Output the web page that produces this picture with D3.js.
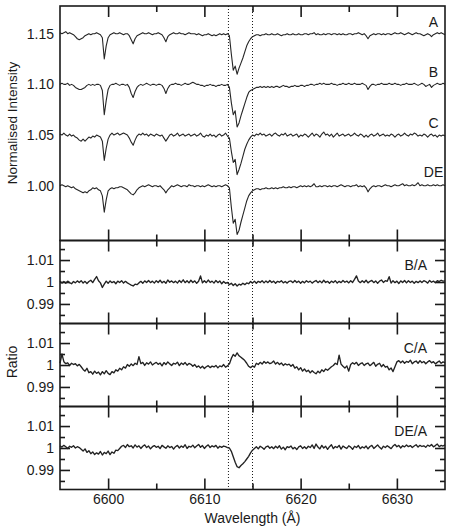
<!DOCTYPE html>
<html>
<head>
<meta charset="utf-8">
<script src="https://cdn.jsdelivr.net/npm/d3@7"></script>
<style>
  body { margin: 0; background: #fff; }
  svg text { font-family: "Liberation Sans", Arial, sans-serif; fill: #1a1a1a; }
</style>
</head>
<body>
<svg id="chart" width="450" height="531"></svg>
<script>
// wavelength grid of the spectra (Angstrom)
const wlStart = 6595, wlStep = 0.2;

const spectrumNames = ['A', 'B', 'C', 'DE'];
const spectrumOffsets = [0.15, 0.10, 0.05, 0];

const specA = [
  1.001,1.000,1.001,1.002,1.000,1.001,1.000,0.999,0.997,0.995,
  0.994,0.995,0.996,0.998,0.999,1.000,0.999,1.000,1.000,1.001,
  1.000,0.999,0.996,0.975,0.988,0.996,0.999,1.000,1.001,1.000,
  1.000,1.001,1.000,0.999,1.000,1.000,0.998,0.994,0.990,0.995,
  0.998,0.999,1.000,1.001,1.000,1.000,1.001,1.000,0.999,1.000,
  1.000,1.001,1.000,0.999,0.996,0.992,0.997,0.999,1.000,1.001,
  1.000,1.000,1.001,1.000,1.000,0.999,1.000,1.001,1.000,1.000,
  1.000,0.999,1.000,0.999,0.998,0.999,0.999,1.000,0.999,0.998,
  0.999,0.998,0.999,1.000,0.999,1.000,0.999,1.000,0.998,0.980,
  0.964,0.968,0.960,0.966,0.971,0.976,0.982,0.988,0.992,0.995,
  0.997,0.998,0.999,0.999,0.998,0.999,0.999,1.000,0.999,0.999,
  1.000,0.999,0.999,1.000,0.999,0.998,0.999,0.999,1.000,0.999,
  0.999,1.000,0.999,0.999,1.000,0.999,0.999,1.000,1.000,0.999,
  1.000,1.000,1.001,0.999,1.000,0.999,0.999,1.000,0.999,1.000,
  1.000,0.999,1.000,1.000,0.999,1.000,0.999,1.000,0.999,0.999,
  1.000,1.000,0.999,1.000,1.000,1.001,1.000,0.999,1.000,0.998,
  0.995,0.998,0.999,1.000,0.999,1.000,1.000,0.999,1.000,0.999,
  1.000,1.000,0.999,1.000,1.001,1.000,1.000,1.001,1.000,0.999,
  1.000,1.001,1.000,0.999,1.000,1.001,1.000,1.000,0.999,0.998,
  0.999,1.000,0.999,0.997,0.999,1.000,1.001,1.000,1.001,1.000,
  0.999
];

const specB = [
  1.000,1.001,1.000,1.000,1.001,0.999,1.000,0.999,0.997,0.996,
  0.995,0.995,0.996,0.997,0.999,1.000,0.999,1.000,0.999,1.000,
  1.000,0.999,0.994,0.970,0.984,0.995,0.999,1.000,1.000,1.001,
  1.000,0.999,1.000,1.000,0.999,1.000,0.997,0.991,0.987,0.993,
  0.997,0.999,1.000,0.999,1.000,1.001,1.000,0.999,1.000,1.000,
  0.999,1.000,1.000,0.999,0.996,0.991,0.996,0.999,1.000,1.000,
  1.001,1.000,1.000,0.999,1.000,1.001,1.000,1.000,1.001,1.002,
  1.001,1.000,1.000,0.999,0.999,0.998,0.999,0.999,1.000,0.999,
  0.999,0.998,0.999,0.999,1.000,0.999,0.999,1.000,0.997,0.982,
  0.970,0.974,0.958,0.962,0.969,0.975,0.981,0.987,0.992,0.994,
  0.995,0.996,0.997,0.997,0.998,0.997,0.998,0.997,0.998,0.997,
  0.998,0.997,0.998,0.998,0.997,0.998,0.999,0.998,0.998,0.997,
  0.998,0.998,0.999,0.998,0.998,0.999,0.999,0.998,0.999,0.999,
  1.000,1.000,0.999,1.000,1.000,1.001,1.000,1.001,1.000,1.000,
  1.000,1.001,1.000,1.000,0.999,1.000,1.000,1.001,1.000,1.000,
  1.001,1.000,1.000,1.001,1.000,1.000,1.000,1.001,1.000,0.999,
  0.995,0.998,1.000,1.000,0.999,1.000,1.000,1.001,1.000,1.000,
  1.000,1.001,1.000,1.000,1.001,1.000,1.000,0.999,1.000,1.000,
  1.001,1.000,1.000,1.000,1.001,1.000,0.999,1.000,1.001,1.000,
  0.998,0.999,1.000,0.997,0.999,1.000,1.001,1.000,1.000,1.001,
  1.000
];

const specC = [
  1.001,1.000,1.002,1.000,0.999,1.001,0.999,1.000,0.998,0.997,
  0.995,0.994,0.996,0.994,0.996,0.998,0.997,0.999,0.998,1.000,
  0.999,0.998,0.994,0.975,0.987,0.996,1.000,1.002,1.000,1.001,
  1.002,1.000,1.001,1.002,1.001,1.000,0.997,0.993,0.990,0.995,
  0.999,1.001,1.000,1.002,1.000,1.001,0.999,1.001,1.000,0.999,
  1.001,1.000,0.999,1.000,0.997,0.994,0.997,1.000,1.001,0.999,
  1.000,1.002,0.999,1.000,1.001,0.999,1.000,1.001,0.999,1.000,
  1.001,0.999,1.000,1.002,0.999,0.998,1.000,0.999,1.001,0.999,
  1.000,0.998,1.000,1.001,0.999,1.000,1.002,0.999,0.997,0.984,
  0.973,0.976,0.961,0.966,0.972,0.979,0.986,0.991,0.995,0.998,
  1.000,0.999,1.001,1.000,1.002,1.000,1.001,0.999,1.000,1.001,
  0.999,1.001,1.002,1.000,0.999,1.001,1.000,1.002,0.999,1.000,
  1.001,0.999,1.000,1.001,0.998,1.000,0.999,1.001,1.000,0.998,
  1.000,1.002,0.999,1.001,1.000,0.998,1.001,1.003,1.000,1.001,
  0.999,1.001,0.998,1.000,1.002,0.999,1.000,1.001,0.999,1.000,
  1.001,0.999,1.000,1.002,1.000,0.999,1.001,1.000,0.998,1.000,
  0.998,1.000,1.001,0.999,1.000,1.002,0.999,1.000,1.001,0.999,
  1.000,0.999,1.001,1.000,0.998,1.000,1.001,0.999,1.000,1.002,
  1.000,0.999,1.001,1.000,1.002,1.001,0.999,1.000,0.999,1.001,
  1.000,0.998,1.000,1.001,0.999,1.000,0.998,1.000,0.999,1.000,
  0.999
];

const specDE = [
  1.000,1.001,1.000,0.999,1.000,0.999,0.998,0.999,0.997,0.996,
  0.995,0.994,0.993,0.994,0.993,0.995,0.996,0.998,0.997,0.998,
  0.996,0.995,0.990,0.974,0.986,0.995,0.997,0.998,0.997,0.998,
  0.998,0.999,0.999,0.998,0.997,0.996,0.994,0.992,0.991,0.993,
  0.996,0.998,0.999,1.000,0.999,1.000,1.001,1.000,0.999,1.000,
  1.000,0.999,1.000,0.998,0.996,0.993,0.996,0.998,1.000,0.999,
  1.000,1.001,1.000,0.999,1.000,1.000,0.999,1.001,1.000,1.000,
  0.999,1.000,1.000,0.999,1.000,0.999,1.000,1.001,1.000,0.999,
  1.000,0.999,1.000,1.000,0.999,1.000,1.001,1.000,0.998,0.979,
  0.963,0.967,0.952,0.956,0.964,0.971,0.978,0.985,0.990,0.993,
  0.995,0.996,0.997,0.997,0.996,0.997,0.997,0.998,0.997,0.997,
  0.998,0.997,0.998,0.997,0.998,0.998,0.999,0.998,0.998,0.999,
  0.998,0.999,0.999,0.998,0.999,1.000,0.999,1.000,0.999,1.000,
  0.999,1.000,1.002,0.999,0.999,1.000,0.999,1.000,1.000,0.999,
  1.000,0.999,1.000,1.000,0.999,1.000,1.001,1.000,0.999,1.000,
  1.000,0.999,1.000,1.000,1.001,0.999,1.000,0.999,1.000,0.998,
  0.994,0.997,0.999,1.000,0.999,1.000,1.000,0.999,1.000,1.001,
  1.000,1.000,0.999,1.000,1.001,1.000,1.000,1.001,1.002,1.000,
  1.001,1.000,1.000,1.001,1.000,1.001,1.003,1.000,1.001,1.000,
  1.000,1.001,1.000,1.000,1.001,1.000,1.001,1.000,1.000,1.001,
  1.000
];

const ratioNames = ['B/A', 'C/A', 'DE/A'];

const ratioBA = [
  1.0003,0.9995,1.0002,0.9994,1.0004,0.9997,0.9992,1.0002,0.9996,1.0005,
  0.9998,1.0006,0.9995,1.0003,0.9993,1.0002,1.0008,0.9997,1.0012,1.0025,
  1.0006,0.9996,0.9975,0.9990,1.0004,0.9994,1.0005,0.9997,1.0002,0.9992,
  1.0004,0.9998,1.0006,0.9995,1.0003,0.9996,0.9991,0.9986,0.9982,0.9990,
  0.9988,0.9996,1.0003,0.9994,1.0005,0.9998,1.0007,0.9997,1.0004,0.9995,
  1.0006,0.9998,1.0008,0.9996,1.0003,0.9994,1.0009,0.9999,1.0005,0.9997,
  1.0004,0.9995,1.0007,0.9998,1.0010,0.9997,1.0006,0.9996,1.0008,0.9998,
  1.0005,0.9994,1.0003,1.0028,0.9996,1.0006,0.9997,1.0009,0.9998,1.0004,
  0.9995,1.0007,0.9997,1.0005,0.9992,1.0002,0.9994,0.9998,0.9988,0.9994,
  0.9984,0.9992,0.9982,0.9990,0.9986,0.9994,0.9988,0.9996,0.9992,1.0002,
  0.9995,1.0004,0.9994,1.0003,0.9998,1.0006,0.9996,1.0005,0.9997,1.0007,
  0.9998,1.0004,0.9994,1.0003,0.9999,1.0006,0.9996,1.0002,0.9995,1.0003,
  1.0005,0.9997,1.0007,0.9998,1.0004,0.9994,1.0003,0.9996,1.0006,0.9999,
  1.0004,0.9995,1.0002,1.0007,0.9997,1.0005,0.9996,1.0008,0.9998,1.0003,
  0.9994,1.0004,0.9998,1.0006,0.9995,1.0003,0.9997,1.0007,0.9999,1.0004,
  0.9996,1.0006,0.9998,1.0012,1.0028,1.0005,0.9997,1.0006,0.9998,1.0008,
  0.9996,1.0003,1.0007,0.9997,1.0005,0.9994,1.0004,1.0009,0.9998,1.0006,
  1.0003,1.0024,0.9995,1.0006,0.9997,1.0004,0.9993,1.0005,0.9998,1.0007,
  0.9996,1.0006,0.9998,1.0004,0.9994,1.0003,0.9997,1.0005,0.9998,1.0006,
  1.0002,0.9995,1.0007,0.9999,1.0004,0.9997,1.0006,1.0002,1.0008,1.0004,
  1.0005
];

const ratioCA = [
  1.0008,1.0050,1.0015,1.0006,1.0010,0.9998,1.0008,1.0002,1.0006,0.9996,
  1.0003,0.9992,0.9980,0.9972,0.9985,0.9965,0.9970,0.9958,0.9972,0.9962,
  0.9968,0.9955,0.9970,0.9960,0.9974,0.9962,0.9956,0.9970,0.9964,0.9978,
  0.9972,0.9985,0.9978,0.9992,0.9986,1.0002,0.9994,1.0005,0.9997,1.0008,
  1.0002,1.0038,1.0006,1.0012,0.9998,1.0010,1.0004,1.0014,1.0000,1.0007,
  1.0012,1.0003,1.0009,0.9996,1.0011,1.0002,1.0014,1.0005,0.9998,1.0008,
  1.0004,1.0013,0.9997,1.0009,1.0002,1.0011,0.9999,1.0007,1.0003,0.9994,
  1.0002,0.9990,0.9996,0.9986,0.9994,0.9984,0.9992,0.9997,0.9988,0.9995,
  0.9991,0.9998,0.9987,0.9996,0.9992,1.0002,0.9990,0.9996,1.0005,1.0030,
  1.0048,1.0040,1.0055,1.0042,1.0035,1.0028,1.0020,1.0008,0.9994,0.9988,
  0.9996,0.9990,1.0008,1.0002,1.0012,1.0004,1.0016,1.0008,1.0014,1.0006,
  1.0010,1.0018,1.0004,1.0012,1.0002,1.0009,0.9998,1.0006,1.0000,1.0004,
  0.9994,1.0002,0.9986,0.9992,0.9978,0.9988,0.9972,0.9982,0.9970,0.9976,
  0.9964,0.9974,0.9966,0.9960,0.9972,0.9964,0.9978,0.9970,0.9982,0.9976,
  0.9984,0.9992,0.9998,1.0008,1.0002,1.0045,1.0004,0.9994,0.9986,0.9996,
  0.9972,1.0002,1.0010,1.0004,1.0012,0.9998,1.0006,1.0010,0.9998,1.0005,
  1.0009,0.9997,1.0004,1.0012,0.9994,1.0003,1.0008,0.9992,1.0002,0.9990,
  0.9994,0.9978,0.9986,0.9970,0.9992,1.0014,1.0020,1.0010,1.0018,1.0008,
  1.0016,1.0012,1.0022,1.0006,1.0014,1.0018,1.0008,1.0020,1.0010,1.0016,
  1.0006,1.0014,1.0020,1.0010,1.0015,1.0005,1.0012,1.0018,1.0008,1.0014,
  1.0010
];

const ratioDEA = [
  1.0010,1.0004,1.0012,1.0006,0.9998,1.0008,1.0003,1.0010,1.0000,1.0006,
  1.0002,0.9994,0.9986,0.9996,0.9980,0.9988,0.9974,0.9982,0.9970,0.9978,
  0.9972,0.9984,0.9968,0.9980,0.9974,0.9986,0.9970,0.9982,0.9976,0.9990,
  0.9988,0.9998,1.0008,1.0012,1.0002,1.0016,1.0006,1.0010,1.0000,1.0014,
  1.0004,1.0010,0.9998,1.0008,1.0014,1.0002,1.0009,0.9996,1.0006,1.0011,
  1.0003,1.0008,0.9997,1.0012,1.0005,0.9999,1.0010,1.0002,1.0007,0.9995,
  1.0006,1.0012,1.0000,1.0009,1.0003,1.0015,0.9998,1.0008,1.0004,1.0013,
  1.0001,1.0009,1.0016,1.0003,1.0011,0.9998,1.0008,1.0014,1.0002,1.0010,
  1.0005,1.0012,0.9999,1.0008,1.0003,1.0009,1.0006,1.0002,1.0000,0.9985,
  0.9960,0.9935,0.9915,0.9910,0.9920,0.9928,0.9938,0.9950,0.9962,0.9978,
  0.9990,0.9998,1.0006,0.9996,1.0008,1.0002,0.9994,1.0005,1.0009,0.9999,
  1.0006,0.9997,1.0008,1.0000,1.0010,0.9995,1.0004,0.9992,1.0006,1.0002,
  1.0009,0.9996,1.0003,0.9993,1.0005,1.0010,0.9998,1.0006,0.9997,1.0008,
  1.0002,1.0014,0.9998,1.0018,1.0004,0.9996,1.0012,1.0000,1.0008,0.9994,
  1.0006,1.0015,0.9997,1.0007,1.0002,1.0012,0.9995,1.0009,1.0003,0.9998,
  1.0010,1.0004,0.9994,1.0008,1.0002,1.0011,0.9997,1.0006,1.0000,1.0009,
  0.9996,1.0007,1.0012,0.9998,1.0006,1.0014,1.0003,0.9995,1.0008,1.0002,
  1.0010,1.0004,0.9997,1.0009,1.0016,1.0006,1.0012,1.0000,1.0010,1.0005,
  1.0014,1.0006,1.0011,1.0002,1.0009,1.0015,1.0004,1.0012,1.0007,1.0010,
  1.0003,1.0013,1.0008,1.0016,1.0005,1.0011,1.0018,1.0006,1.0012,1.0009,
  1.0014
];

const xTicks = [6600, 6610, 6620, 6630];
const xMinorTicks = [6605, 6615, 6625];
const topYTicks = [1.00, 1.05, 1.10, 1.15];
const ratioYTicks = [0.99, 1, 1.01];
const ratioMinorYTicks = [0.985, 0.995, 1.005, 1.015];
const markerWavelengths = [6612.5, 6615];

// ---- layout
const left = 60, right = 445;
const topPanel = { y0: 6, y1: 240.5 };
const ratioTops = [240.5, 323.5, 406.5];
const ratioH = 83;
const bottom = ratioTops[2] + ratioH;
const ink = '#1a1a1a';

const svg = d3.select('#chart');
const x = d3.scaleLinear().domain([6595, 6635]).range([left, right]);
const wl = i => wlStart + i * wlStep;

const styleAxis = g => {
  g.select('.domain').remove();
  g.selectAll('.tick line').attr('stroke', ink).attr('stroke-width', 1.6);
  g.selectAll('.tick text').attr('font-size', 14).attr('fill', ink)
    .attr('font-family', '"Liberation Sans", Arial, sans-serif');
  g.attr('font-size', null).attr('font-family', null);
};

const addXTicks = (y0, y1, withLabels) => {
  svg.append('g').attr('transform', `translate(0,${y0})`)
    .call(d3.axisTop(x).tickValues(xTicks).tickSize(-11).tickFormat(''))
    .call(styleAxis);
  svg.append('g').attr('transform', `translate(0,${y0})`)
    .call(d3.axisTop(x).tickValues(xMinorTicks).tickSize(-6).tickFormat(''))
    .call(styleAxis);
  svg.append('g').attr('transform', `translate(0,${y1})`)
    .call(d3.axisBottom(x).tickValues(xTicks).tickSize(-11).tickPadding(5)
      .tickFormat(withLabels ? d3.format('d') : ''))
    .call(styleAxis);
  svg.append('g').attr('transform', `translate(0,${y1})`)
    .call(d3.axisBottom(x).tickValues(xMinorTicks).tickSize(-6).tickFormat(''))
    .call(styleAxis);
};

const frame = (y0, y1) => {
  svg.append('rect')
    .attr('x', left).attr('y', y0)
    .attr('width', right - left).attr('height', y1 - y0)
    .attr('fill', 'none').attr('stroke', ink).attr('stroke-width', 1.6);
};

// ---- top panel: offset spectra
const yTop = d3.scaleLinear().domain([0.946, 1.1773]).range([topPanel.y1, topPanel.y0]);
const spectra = [specA, specB, specC, specDE];

svg.append('g').attr('transform', `translate(${left},0)`)
  .call(d3.axisLeft(yTop).tickValues(topYTicks).tickSize(0).tickPadding(6)
    .tickFormat(d3.format('.2f')))
  .call(styleAxis);

spectra.forEach((s, k) => {
  const line = d3.line()
    .x((d, i) => x(wl(i)))
    .y(d => yTop(d + spectrumOffsets[k]));
  svg.append('path').datum(s)
    .attr('d', line)
    .attr('fill', 'none').attr('stroke', '#262626').attr('stroke-width', 1.1)
    .attr('stroke-linejoin', 'round');
});

const specLabelY = [27, 77, 128, 177];
spectrumNames.forEach((n, k) => {
  svg.append('text').attr('x', 433.5).attr('y', specLabelY[k])
    .attr('text-anchor', 'middle').attr('font-size', 14).text(n);
});

addXTicks(topPanel.y0, topPanel.y1, false);

// ---- ratio panels
const ratios = [ratioBA, ratioCA, ratioDEA];
ratios.forEach((r, k) => {
  const y0 = ratioTops[k], y1 = y0 + ratioH;
  const y = d3.scaleLinear().domain([0.9811, 1.0189]).range([y1, y0]);

  svg.append('g').attr('transform', `translate(${left},0)`)
    .call(d3.axisLeft(y).tickValues(ratioYTicks).tickSize(-10).tickPadding(6)
      .tickFormat(d => String(d)))
    .call(styleAxis);
  svg.append('g').attr('transform', `translate(${left},0)`)
    .call(d3.axisLeft(y).tickValues(ratioMinorYTicks).tickSize(-5).tickFormat(''))
    .call(styleAxis);
  svg.append('g').attr('transform', `translate(${right},0)`)
    .call(d3.axisRight(y).tickValues(ratioYTicks).tickSize(-10).tickFormat(''))
    .call(styleAxis);
  svg.append('g').attr('transform', `translate(${right},0)`)
    .call(d3.axisRight(y).tickValues(ratioMinorYTicks).tickSize(-5).tickFormat(''))
    .call(styleAxis);

  const line = d3.line().x((d, i) => x(wl(i))).y(d => y(d));
  svg.append('path').datum(r)
    .attr('d', line)
    .attr('fill', 'none').attr('stroke', '#222').attr('stroke-width', 1.35)
    .attr('stroke-linejoin', 'round');

  svg.append('text').attr('x', 427).attr('y', y0 + 29.5)
    .attr('text-anchor', 'end').attr('font-size', 14).text(ratioNames[k]);

  addXTicks(y0, y1, k === ratios.length - 1);
});

// ---- dotted markers across all panels
markerWavelengths.forEach(w => {
  svg.append('line')
    .attr('x1', x(w)).attr('x2', x(w))
    .attr('y1', topPanel.y0).attr('y2', bottom)
    .attr('stroke', ink).attr('stroke-width', 1)
    .attr('stroke-dasharray', '1,2');
});

// ---- frames
frame(topPanel.y0, topPanel.y1);
ratioTops.forEach(t => frame(t, t + ratioH));

// ---- axis titles
svg.append('text')
  .attr('transform', 'translate(17,123) rotate(-90)')
  .attr('text-anchor', 'middle').attr('font-size', 13.5)
  .text('Normalised Intensity');
svg.append('text')
  .attr('transform', 'translate(17,362) rotate(-90)')
  .attr('text-anchor', 'middle').attr('font-size', 14)
  .text('Ratio');
svg.append('text')
  .attr('x', (left + right) / 2).attr('y', 523)
  .attr('text-anchor', 'middle').attr('font-size', 14)
  .text('Wavelength (Å)');
</script>
</body>
</html>
